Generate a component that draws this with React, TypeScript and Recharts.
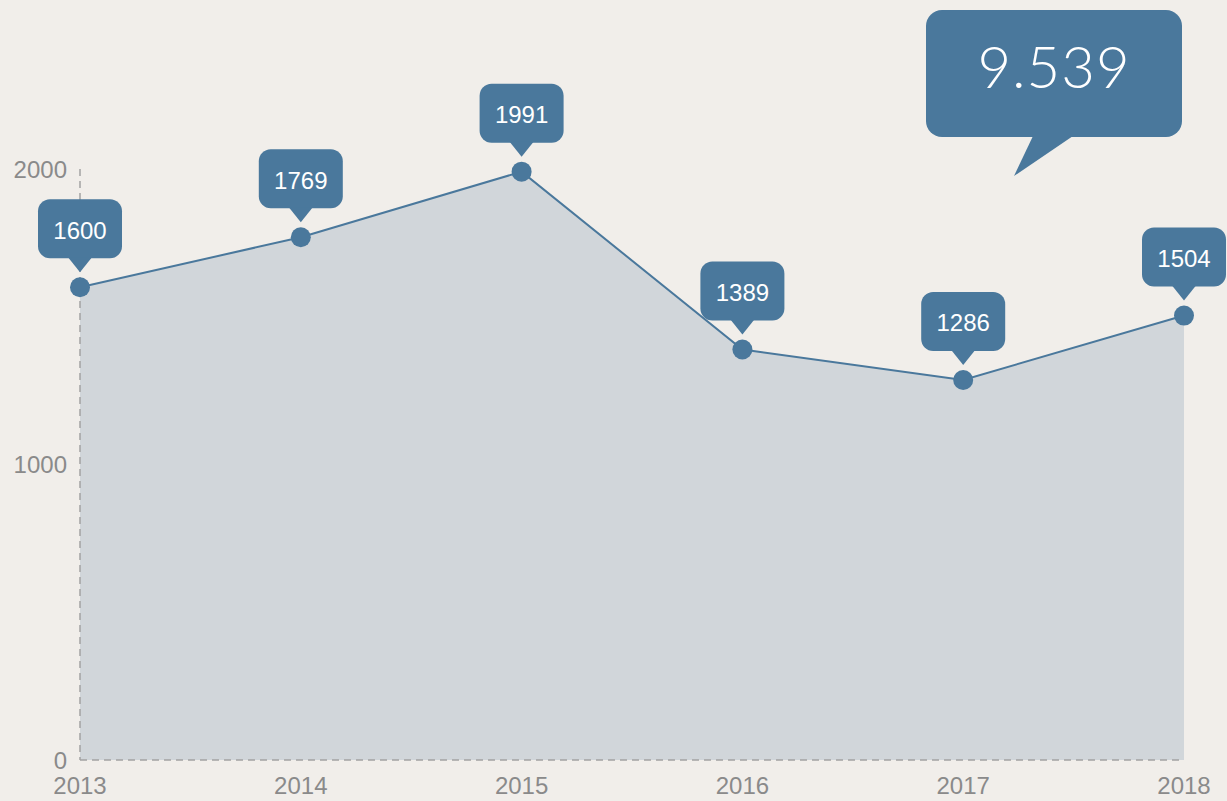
import { Area, AreaChart, LabelList, XAxis, YAxis } from "recharts";

const years = ["2013", "2014", "2015", "2016", "2017", "2018"];
const amounts = [1600, 1769, 1991, 1389, 1286, 1504];
const yTicks = [0, 1000, 2000];

const BLUE = "#4a789c";
const BG = "#f1eeea";
const FILL = "#d1d6da";
const AXIS = "#a3a3a3";
const TICK = "#8a8a8a";
const FONT = "'Liberation Sans', Arial, Helvetica, sans-serif";

const chartData = years.map((year, i) => ({ year, amount: amounts[i] }));
const total = amounts.reduce((sum, v) => sum + v, 0);
const totalLabel = total.toString().replace(/\B(?=(\d{3})+(?!\d))/g, ".");

function ValueTag(props: any) {
  const cx = Number(props.x ?? props.viewBox?.x ?? 0);
  const cy = Number(props.y ?? props.viewBox?.y ?? 0);
  const w = 84;
  const h = 59;
  const top = cy - 88;
  return (
    <g>
      <rect x={cx - w / 2} y={top} width={w} height={h} rx={12} ry={12} fill={BLUE} />
      <polygon
        points={`${cx - 12},${top + h - 1} ${cx + 12},${top + h - 1} ${cx},${cy - 15}`}
        fill={BLUE}
      />
      <text
        x={cx}
        y={cy - 57}
        textAnchor="middle"
        dominantBaseline="central"
        fill="#ffffff"
        fontSize={24}
        fontFamily={FONT}
      >
        {props.value}
      </text>
    </g>
  );
}

function TotalCallout() {
  // speech bubble with the summed total, top right
  return (
    <svg
      width={1227}
      height={801}
      style={{ position: "absolute", left: 0, top: 0, pointerEvents: "none" }}
    >
      <rect x={926} y={10} width={256} height={127} rx={16} ry={16} fill={BLUE} />
      <polygon points="1033,136 1073,136 1014,176" fill={BLUE} />
      <text
        x={1054}
        y={65}
        textAnchor="middle"
        dominantBaseline="central"
        fill="#ffffff"
        fontSize={58}
        fontWeight={300}
        letterSpacing={1}
        fontFamily="Lato, 'Open Sans', sans-serif"
      >
        {totalLabel}
      </text>
    </svg>
  );
}

export default function App() {
  return (
    <div
      style={{
        position: "absolute",
        left: 0,
        top: 0,
        width: 1227,
        height: 801,
        background: BG,
        overflow: "hidden",
      }}
    >
      <AreaChart
        width={1227}
        height={801}
        data={chartData}
        margin={{ top: 169, right: 43, left: 0, bottom: 11 }}
      >
        <XAxis
          dataKey="year"
          height={30}
          axisLine={{ stroke: AXIS, strokeWidth: 1.5, strokeDasharray: "7 5" }}
          tickLine={false}
          tickSize={0}
          tickMargin={17}
          interval={0}
          tick={{ fill: TICK, fontSize: 24, fontFamily: FONT }}
        />
        <YAxis
          width={80}
          domain={[0, 2000]}
          ticks={yTicks}
          axisLine={{ stroke: AXIS, strokeWidth: 1.5, strokeDasharray: "7 5" }}
          tickLine={false}
          tickSize={0}
          tickMargin={13}
          tick={{ fill: TICK, fontSize: 24, fontFamily: FONT }}
        />
        <Area
          type="linear"
          dataKey="amount"
          stroke={BLUE}
          strokeWidth={2}
          fill={FILL}
          fillOpacity={1}
          dot={{ r: 10, fill: BLUE, stroke: "none", strokeWidth: 0 }}
          activeDot={false}
          isAnimationActive={false}
        >
          <LabelList dataKey="amount" content={ValueTag} />
        </Area>
      </AreaChart>
      <TotalCallout />
    </div>
  );
}
